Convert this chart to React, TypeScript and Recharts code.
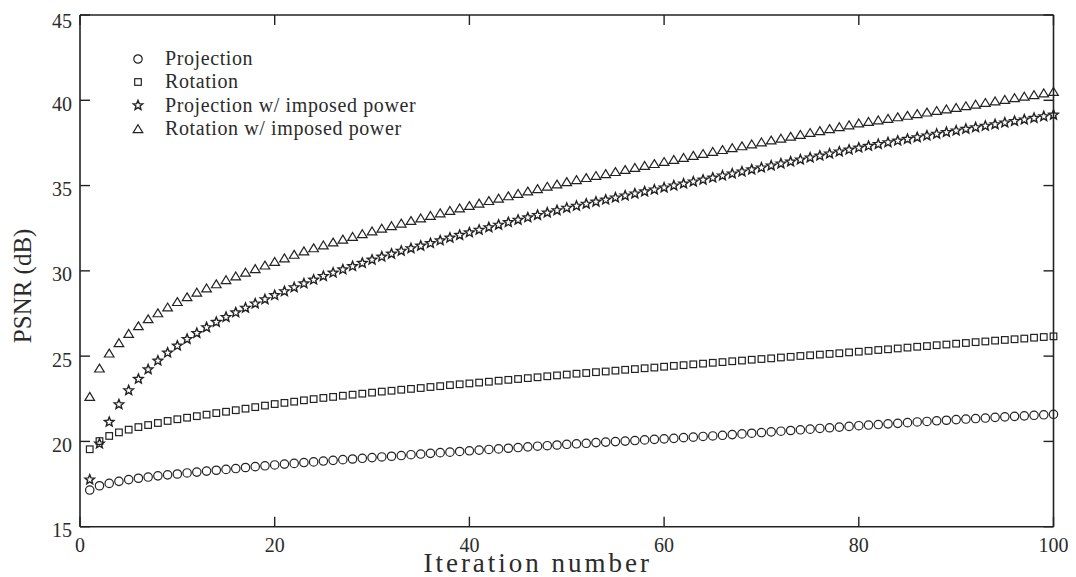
import React from 'react';
import { ScatterChart, Scatter, XAxis, YAxis } from 'recharts';

const ITERATIONS = [
  1, 2, 3, 4, 5, 6, 7, 8, 9, 10, 11, 12, 13, 14, 15, 16, 17, 18, 19, 20,
  21, 22, 23, 24, 25, 26, 27, 28, 29, 30, 31, 32, 33, 34, 35, 36, 37, 38, 39, 40,
  41, 42, 43, 44, 45, 46, 47, 48, 49, 50, 51, 52, 53, 54, 55, 56, 57, 58, 59, 60,
  61, 62, 63, 64, 65, 66, 67, 68, 69, 70, 71, 72, 73, 74, 75, 76, 77, 78, 79, 80,
  81, 82, 83, 84, 85, 86, 87, 88, 89, 90, 91, 92, 93, 94, 95, 96, 97, 98, 99, 100,
];

const PROJECTION = [
  17.15, 17.4, 17.54, 17.66, 17.76, 17.84, 17.91, 17.98, 18.04, 18.09,
  18.15, 18.2, 18.26, 18.31, 18.36, 18.41, 18.47, 18.52, 18.57, 18.62,
  18.67, 18.71, 18.76, 18.8, 18.85, 18.89, 18.93, 18.97, 19.01, 19.05,
  19.09, 19.13, 19.17, 19.22, 19.26, 19.3, 19.34, 19.37, 19.41, 19.45,
  19.49, 19.53, 19.56, 19.6, 19.64, 19.68, 19.72, 19.75, 19.79, 19.83,
  19.86, 19.89, 19.93, 19.96, 19.99, 20.02, 20.05, 20.09, 20.12, 20.15,
  20.18, 20.22, 20.25, 20.29, 20.32, 20.36, 20.4, 20.44, 20.48, 20.52,
  20.56, 20.6, 20.64, 20.68, 20.72, 20.76, 20.8, 20.84, 20.88, 20.92,
  20.96, 20.99, 21.03, 21.06, 21.1, 21.14, 21.17, 21.21, 21.24, 21.28,
  21.31, 21.34, 21.37, 21.41, 21.44, 21.47, 21.5, 21.53, 21.56, 21.59,
];

const ROTATION = [
  19.54, 20.02, 20.32, 20.53, 20.69, 20.84, 20.96, 21.08, 21.2, 21.3,
  21.39, 21.48, 21.57, 21.66, 21.74, 21.83, 21.92, 22.01, 22.1, 22.19,
  22.26, 22.33, 22.41, 22.48, 22.55, 22.61, 22.68, 22.74, 22.8, 22.86,
  22.92, 22.97, 23.03, 23.08, 23.13, 23.19, 23.24, 23.3, 23.35, 23.4,
  23.45, 23.5, 23.56, 23.61, 23.66, 23.71, 23.76, 23.82, 23.87, 23.92,
  23.97, 24.01, 24.06, 24.1, 24.15, 24.2, 24.24, 24.29, 24.33, 24.38,
  24.43, 24.47, 24.52, 24.56, 24.61, 24.65, 24.7, 24.74, 24.79, 24.83,
  24.87, 24.92, 24.96, 25.01, 25.05, 25.09, 25.13, 25.17, 25.22, 25.26,
  25.31, 25.36, 25.4, 25.45, 25.5, 25.55, 25.59, 25.64, 25.68, 25.73,
  25.77, 25.82, 25.86, 25.91, 25.95, 25.99, 26.03, 26.08, 26.12, 26.16,
];

const PROJECTION_IMPOSED = [
  17.78, 19.89, 21.16, 22.19, 23.01, 23.68, 24.24, 24.75, 25.22, 25.63,
  26.02, 26.37, 26.71, 27.02, 27.31, 27.58, 27.85, 28.1, 28.35, 28.59,
  28.82, 29.05, 29.28, 29.5, 29.71, 29.91, 30.1, 30.29, 30.48, 30.67,
  30.85, 31.02, 31.19, 31.34, 31.49, 31.64, 31.8, 31.96, 32.12, 32.27,
  32.42, 32.57, 32.72, 32.87, 33.01, 33.15, 33.29, 33.43, 33.57, 33.71,
  33.83, 33.95, 34.07, 34.19, 34.31, 34.43, 34.55, 34.67, 34.78, 34.9,
  35.02, 35.13, 35.25, 35.36, 35.48, 35.6, 35.72, 35.84, 35.96, 36.07,
  36.19, 36.31, 36.42, 36.54, 36.66, 36.77, 36.89, 37.01, 37.12, 37.24,
  37.34, 37.45, 37.55, 37.65, 37.75, 37.85, 37.95, 38.05, 38.15, 38.24,
  38.34, 38.43, 38.52, 38.61, 38.71, 38.8, 38.89, 38.98, 39.08, 39.17,
];

const ROTATION_IMPOSED = [
  22.62, 24.28, 25.16, 25.77, 26.31, 26.76, 27.17, 27.52, 27.86, 28.18,
  28.46, 28.73, 28.98, 29.22, 29.46, 29.68, 29.9, 30.11, 30.32, 30.53,
  30.74, 30.95, 31.15, 31.33, 31.5, 31.67, 31.84, 32.0, 32.16, 32.32,
  32.48, 32.63, 32.78, 32.93, 33.08, 33.23, 33.38, 33.52, 33.67, 33.81,
  33.95, 34.1, 34.24, 34.38, 34.52, 34.66, 34.8, 34.94, 35.07, 35.21,
  35.33, 35.45, 35.57, 35.68, 35.8, 35.92, 36.04, 36.16, 36.27, 36.39,
  36.51, 36.63, 36.75, 36.86, 36.98, 37.09, 37.2, 37.31, 37.42, 37.54,
  37.65, 37.76, 37.87, 37.98, 38.09, 38.2, 38.32, 38.43, 38.54, 38.65,
  38.74, 38.83, 38.92, 39.01, 39.1, 39.2, 39.29, 39.38, 39.47, 39.56,
  39.66, 39.75, 39.85, 39.94, 40.03, 40.13, 40.22, 40.31, 40.41, 40.5,
];

const X_TICKS = [0, 20, 40, 60, 80, 100];
const Y_TICKS = [15, 20, 25, 30, 35, 40, 45];

type MarkerKind = 'circle' | 'square' | 'star' | 'triangle';

// the last two series sit on the top/right axes so those axes get ticks (same domains)
const SERIES: { name: string; kind: MarkerKind; values: number[]; xId: string; yId: string }[] = [
  { name: 'Projection', kind: 'circle', values: PROJECTION, xId: 'bottom', yId: 'left' },
  { name: 'Rotation', kind: 'square', values: ROTATION, xId: 'bottom', yId: 'left' },
  { name: 'Projection w/ imposed power', kind: 'star', values: PROJECTION_IMPOSED, xId: 'top', yId: 'right' },
  { name: 'Rotation w/ imposed power', kind: 'triangle', values: ROTATION_IMPOSED, xId: 'top', yId: 'right' },
];

const INK = '#222';
const TEXT = '#2b2b2b';
const FONT = '"Liberation Serif", "Times New Roman", serif';

const starPoints = (cx: number, cy: number, outer: number, inner: number) => {
  const pts: string[] = [];
  for (let i = 0; i < 10; i++) {
    const r = i % 2 === 0 ? outer : inner;
    const a = -Math.PI / 2 + (i * Math.PI) / 5;
    pts.push(`${cx + r * Math.cos(a)},${cy + r * Math.sin(a)}`);
  }
  return pts.join(' ');
};

const Marker = ({ kind, cx, cy }: { kind: MarkerKind; cx: number; cy: number }) => {
  const common = { fill: 'none', stroke: INK, strokeWidth: 1.2 };
  switch (kind) {
    case 'circle':
      return <circle cx={cx} cy={cy} r={4.2} {...common} />;
    case 'square':
      return <rect x={cx - 3.3} y={cy - 3.3} width={6.6} height={6.6} {...common} />;
    case 'star':
      return <polygon points={starPoints(cx, cy + 0.4, 5, 2.2)} {...common} strokeWidth={1.4} />;
    default:
      return (
        <polygon
          points={`${cx},${cy - 4.3} ${cx + 4.8},${cy + 3.6} ${cx - 4.8},${cy + 3.6}`}
          {...common}
        />
      );
  }
};

const NoLabel = () => <g />;

const YTick = ({ x, y, payload }: any) => (
  <text x={x} y={y + 3.5} dy="0.355em" textAnchor="end" fill={TEXT} fontSize={20} fontFamily={FONT}>
    {payload.value}
  </text>
);

const XTick = ({ x, y, payload }: any) => (
  <text x={x} y={y} dy="0.71em" textAnchor="middle" fill={TEXT} fontSize={20} fontFamily={FONT}>
    {payload.value}
  </text>
);

const XTitle = ({ viewBox }: any) => (
  <text
    x={viewBox.x + viewBox.width / 2 - 29}
    y={viewBox.y + viewBox.height - 5}
    textAnchor="middle"
    fill={TEXT}
    fontSize={27}
    letterSpacing={3}
    fontFamily={FONT}
  >
    Iteration number
  </text>
);

const YTitle = ({ viewBox }: any) => {
  const cx = viewBox.x + 14;
  const cy = viewBox.y + viewBox.height / 2 + 15;
  return (
    <text
      x={cx}
      y={cy}
      dy="0.35em"
      textAnchor="middle"
      transform={`rotate(-90 ${cx} ${cy})`}
      fill={TEXT}
      fontSize={25}
      fontFamily={FONT}
    >
      PSNR (dB)
    </text>
  );
};

const MarkerLegend = () => (
  <div
    style={{
      position: 'absolute',
      left: 122,
      top: 39,
      fontFamily: FONT,
      fontSize: 20,
      letterSpacing: 0.6,
      color: TEXT,
    }}
  >
    {SERIES.map((s) => (
      <div key={s.name} style={{ display: 'flex', alignItems: 'center', height: 23.3 }}>
        <svg width={16} height={16} style={{ marginRight: 19 }}>
          <Marker kind={s.kind} cx={8} cy={8} />
        </svg>
        <span style={{ lineHeight: '23px' }}>{s.name}</span>
      </div>
    ))}
  </div>
);

export default function App() {
  const data = SERIES.map((s) => ITERATIONS.map((it, i) => ({ x: it, y: s.values[i] })));
  const line = { stroke: INK, strokeWidth: 1.6 };
  const tickMark = { stroke: INK, strokeWidth: 1.4 };

  return (
    <div style={{ position: 'relative', width: 1060, height: 569 }}>
      <ScatterChart width={1060} height={569} margin={{ top: 6, right: 13.5, bottom: 0, left: 0 }}>
        <XAxis
          xAxisId="bottom"
          dataKey="x"
          type="number"
          domain={[0, 100]}
          ticks={X_TICKS}
          height={50.3}
          tickSize={-10}
          tickMargin={21}
          tickLine={tickMark}
          axisLine={line}
          tick={<XTick />}
          label={{ content: <XTitle /> }}
        />
        <XAxis
          xAxisId="top"
          orientation="top"
          dataKey="x"
          type="number"
          domain={[0, 100]}
          ticks={X_TICKS}
          height={1}
          tick={<NoLabel />}
          tickSize={-10}
          axisLine={line}
          tickLine={tickMark}
        />
        <YAxis
          yAxisId="left"
          dataKey="y"
          type="number"
          domain={[15, 45]}
          ticks={Y_TICKS}
          width={72}
          tickSize={-10}
          tickMargin={18}
          tickLine={tickMark}
          axisLine={line}
          tick={<YTick />}
          label={{ content: <YTitle /> }}
        />
        <YAxis
          yAxisId="right"
          orientation="right"
          dataKey="y"
          type="number"
          domain={[15, 45]}
          ticks={Y_TICKS}
          width={1}
          tick={<NoLabel />}
          tickSize={-10}
          axisLine={line}
          tickLine={tickMark}
        />
        {SERIES.map((s, idx) => (
          <Scatter
            key={s.name}
            name={s.name}
            data={data[idx]}
            xAxisId={s.xId}
            yAxisId={s.yId}
            isAnimationActive={false}
            shape={(p: any) => <Marker kind={s.kind} cx={p.cx} cy={p.cy} />}
          />
        ))}
      </ScatterChart>
      <MarkerLegend />
    </div>
  );
}
